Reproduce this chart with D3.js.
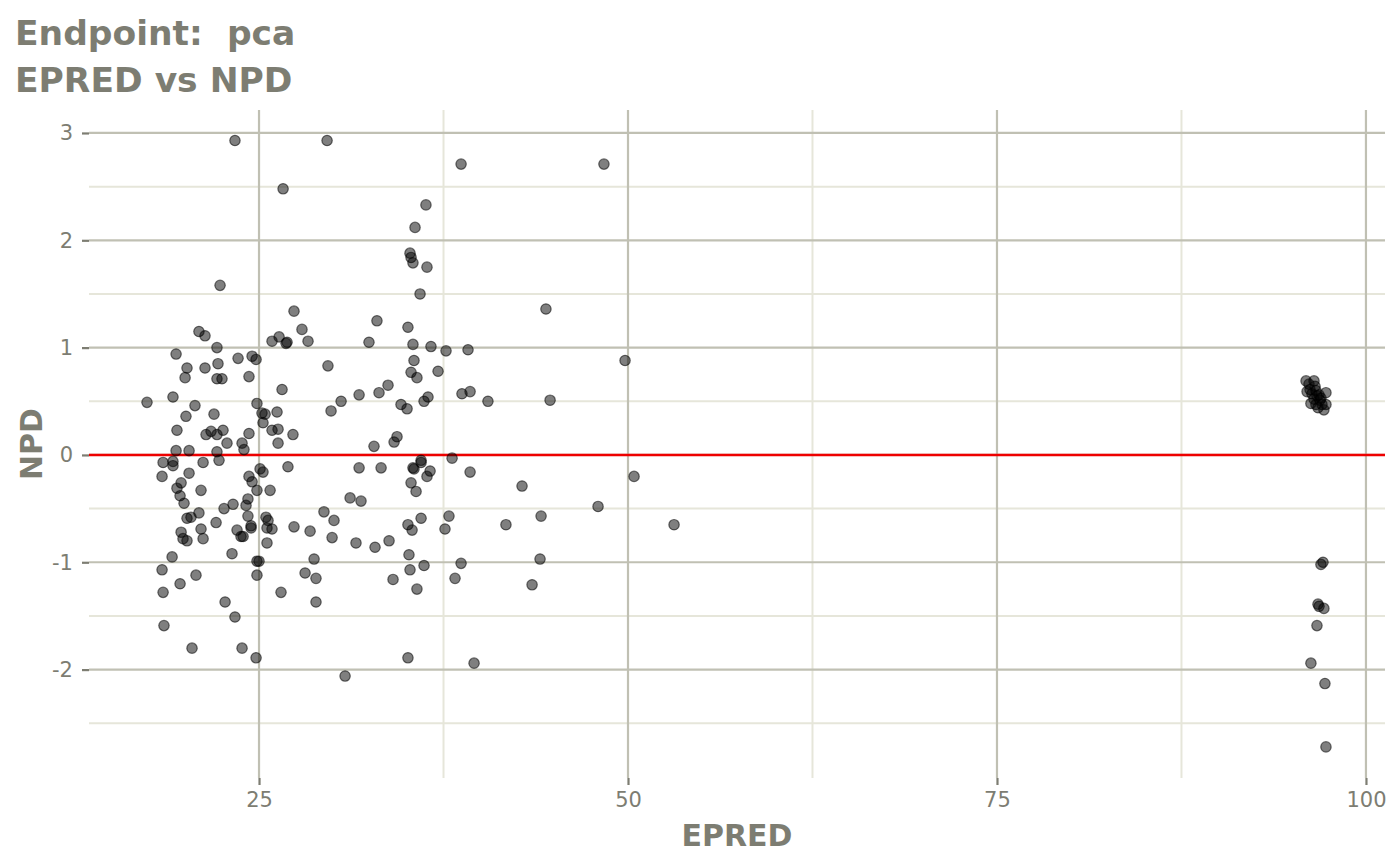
<!DOCTYPE html>
<html>
<head>
<meta charset="utf-8">
<script src="https://cdn.jsdelivr.net/npm/d3@7"></script>
<style>
  body { margin: 0; background: #fff; }
  svg { display: block; }
</style>
</head>
<body>
<svg id="chart" width="1400" height="865"></svg>
<script>
// values
const epred = [
  23.37, 26.63, 22.36, 20.93, 21.34, 22.15, 19.38, 23.58, 24.53, 24.80,
  22.22, 25.88, 26.36, 26.83, 20.12, 21.34, 19.99, 22.15, 22.49, 24.32,
  26.56, 17.41, 19.17, 20.66, 20.05, 21.95, 24.86, 25.20, 25.41, 26.22,
  25.27, 25.88, 26.29, 19.44, 21.41, 21.75, 22.15, 22.56, 24.32, 22.83,
  23.85, 26.29, 23.98, 19.38, 20.26, 22.15, 27.30, 27.37, 27.91, 26.90,
  28.32, 18.50, 19.17, 19.17, 21.21, 22.29, 18.43, 20.26, 19.72, 19.44,
  21.07, 19.65, 19.92, 24.32, 24.53, 25.07, 25.27, 24.86, 25.75, 26.96,
  24.25, 24.12, 23.24, 22.63, 20.93, 20.12, 20.39, 22.09, 21.07, 19.72,
  19.85, 20.12, 21.21, 23.51, 23.78, 23.92, 24.25, 24.46, 24.46, 25.47,
  25.61, 25.54, 25.88, 25.54, 23.17, 19.11, 24.86, 25.00, 18.43, 20.73,
  24.86, 19.65, 18.50, 26.49, 22.70, 23.37, 18.56, 20.46, 23.85, 24.80,
  29.61, 38.69, 36.31, 35.57, 35.23, 35.30, 35.43, 36.38, 35.91, 32.99,
  32.45, 35.09, 35.43, 36.65, 37.67, 39.16, 29.67, 35.50, 35.30, 35.70,
  37.13, 33.74, 33.13, 31.78, 30.56, 29.88, 34.62, 35.03, 36.18, 36.45,
  38.75, 39.30, 34.35, 34.15, 32.79, 35.98, 38.08, 31.78, 33.27, 35.43,
  35.50, 35.98, 36.59, 36.38, 35.30, 35.64, 31.17, 31.91, 29.40, 30.08,
  27.37, 28.46, 29.95, 31.57, 32.86, 33.81, 35.09, 35.37, 35.98, 37.87,
  37.60, 28.73, 28.12, 28.86, 28.86, 35.16, 35.23, 36.18, 34.08, 35.70,
  38.69, 38.28, 35.09, 30.83, 48.37, 44.44, 49.80, 40.51, 44.72, 39.30,
  42.82, 50.41, 47.97, 44.11, 41.73, 53.12, 44.04, 43.50, 39.57,
  97.09, 96.95, 96.75, 96.82, 97.15, 96.68, 96.27, 97.22, 97.29,
  95.94, 96.14, 96.48, 96.21, 96.01, 96.34, 96.61, 96.82, 96.48, 96.27,
  96.61, 96.88, 97.02, 96.75, 97.15, 97.29, 97.29, 96.55, 96.95, 96.68
];
const npd = [
  2.93, 2.48, 1.58, 1.15, 1.11, 1.00, 0.94, 0.90, 0.92, 0.89,
  0.85, 1.06, 1.10, 1.04, 0.81, 0.81, 0.72, 0.71, 0.71, 0.73,
  0.61, 0.49, 0.54, 0.46, 0.36, 0.38, 0.48, 0.39, 0.38, 0.40,
  0.30, 0.23, 0.24, 0.23, 0.19, 0.22, 0.19, 0.23, 0.20, 0.11,
  0.11, 0.11, 0.05, 0.04, 0.04, 0.03, 0.19, 1.34, 1.17, 1.05,
  1.06, -0.07, -0.06, -0.10, -0.07, -0.05, -0.20, -0.17, -0.26, -0.31,
  -0.33, -0.38, -0.45, -0.20, -0.25, -0.13, -0.16, -0.33, -0.33, -0.11,
  -0.41, -0.47, -0.46, -0.50, -0.54, -0.59, -0.58, -0.63, -0.69, -0.72,
  -0.78, -0.80, -0.78, -0.70, -0.76, -0.76, -0.57, -0.66, -0.68, -0.58,
  -0.61, -0.68, -0.69, -0.82, -0.92, -0.95, -0.99, -0.99, -1.07, -1.12,
  -1.12, -1.20, -1.28, -1.28, -1.37, -1.51, -1.59, -1.80, -1.80, -1.89,
  2.93, 2.71, 2.33, 2.12, 1.88, 1.84, 1.79, 1.75, 1.50, 1.25,
  1.05, 1.19, 1.03, 1.01, 0.97, 0.98, 0.83, 0.88, 0.77, 0.72,
  0.78, 0.65, 0.58, 0.56, 0.50, 0.41, 0.47, 0.43, 0.50, 0.54,
  0.57, 0.59, 0.17, 0.12, 0.08, -0.05, -0.03, -0.12, -0.12, -0.12,
  -0.13, -0.07, -0.15, -0.20, -0.26, -0.34, -0.40, -0.43, -0.53, -0.61,
  -0.67, -0.71, -0.77, -0.82, -0.86, -0.80, -0.65, -0.70, -0.59, -0.57,
  -0.69, -0.97, -1.10, -1.15, -1.37, -0.93, -1.07, -1.03, -1.16, -1.25,
  -1.01, -1.15, -1.89, -2.06, 2.71, 1.36, 0.88, 0.50, 0.51, -0.16,
  -0.29, -0.20, -0.48, -0.57, -0.65, -0.65, -0.97, -1.21, -1.94,
  -1.00, -1.02, -1.39, -1.41, -1.43, -1.59, -1.94, -2.13, -2.72,
  0.69, 0.66, 0.69, 0.61, 0.59, 0.57, 0.60, 0.56, 0.52, 0.48,
  0.47, 0.51, 0.47, 0.44, 0.42, 0.58, 0.47, 0.64, 0.53, 0.55
];
const xTicks = [25, 50, 75, 100];
const xMinor = [37.5, 62.5, 87.5];
const yTicks = [-2, -1, 0, 1, 2, 3];
const yMinor = [-2.5, -1.5, -0.5, 0.5, 1.5, 2.5];
const titleLines = ["Endpoint:  pca", "EPRED vs NPD"];

const data = epred.map((e, i) => ({ epred: e, npd: npd[i] }));

const margin = { top: 110, right: 15, bottom: 87, left: 89 };
const width = 1400 - margin.left - margin.right;
const height = 865 - margin.top - margin.bottom;
const textCol = "#7d7d72";
const font = "'DejaVu Sans', sans-serif";

const svgEl = d3.select("#chart");
const svg = svgEl.append("g")
  .attr("transform", `translate(${margin.left},${margin.top})`);

const x = d3.scaleLinear().domain([13.48, 101.29]).range([0, width]);
const y = d3.scaleLinear().domain([-3.01, 3.214]).range([height, 0]);

// minor grid
svg.append("g").selectAll("line").data(xMinor).enter().append("line")
  .attr("x1", d => x(d)).attr("x2", d => x(d))
  .attr("y1", 0).attr("y2", height)
  .attr("stroke", "#e6e6da").attr("stroke-width", 2);
svg.append("g").selectAll("line").data(yMinor).enter().append("line")
  .attr("x1", 0).attr("x2", width)
  .attr("y1", d => y(d)).attr("y2", d => y(d))
  .attr("stroke", "#e6e6da").attr("stroke-width", 2);

// major grid
svg.append("g").selectAll("line").data(xTicks).enter().append("line")
  .attr("x1", d => x(d)).attr("x2", d => x(d))
  .attr("y1", 0).attr("y2", height)
  .attr("stroke", "#c0c0b3").attr("stroke-width", 2.2);
svg.append("g").selectAll("line").data(yTicks).enter().append("line")
  .attr("x1", 0).attr("x2", width)
  .attr("y1", d => y(d)).attr("y2", d => y(d))
  .attr("stroke", "#c0c0b3").attr("stroke-width", 2.2);

// axes (ticks + labels only)
const xAxis = svg.append("g")
  .attr("transform", `translate(0,${height})`)
  .call(d3.axisBottom(x).tickValues(xTicks).tickSizeInner(7).tickSizeOuter(0).tickPadding(7));
const yAxis = svg.append("g")
  .call(d3.axisLeft(y).tickValues(yTicks).tickSizeInner(7).tickSizeOuter(0).tickPadding(9)
    .tickFormat(d => d < 0 ? "-" + Math.abs(d) : d));
[xAxis, yAxis].forEach(a => {
  a.select(".domain").remove();
  a.selectAll(".tick line").attr("stroke", "#7d7d72").attr("stroke-width", 2.2);
  a.selectAll(".tick text")
    .attr("fill", textCol)
    .style("font-family", font)
    .style("font-size", "21px");
});

// reference line
svg.append("line")
  .attr("x1", 0).attr("x2", width)
  .attr("y1", y(0)).attr("y2", y(0))
  .attr("stroke", "#ee0000").attr("stroke-width", 2.6);

// points
svg.append("g")
  .selectAll("circle")
  .data(data)
  .enter()
  .append("circle")
  .attr("cx", d => x(d.epred))
  .attr("cy", d => y(d.npd))
  .attr("r", 5.2)
  .attr("fill", "rgba(0,0,0,0.5)")
  .attr("stroke", "rgba(0,0,0,0.55)")
  .attr("stroke-width", 1.2);

// axis titles
svgEl.append("text")
  .attr("x", margin.left + width / 2)
  .attr("y", 846)
  .attr("text-anchor", "middle")
  .attr("fill", textCol)
  .style("font-family", font)
  .style("font-weight", "bold")
  .style("font-size", "30px")
  .text("EPRED");

svgEl.append("text")
  .attr("transform", `translate(42,${margin.top + height / 2}) rotate(-90)`)
  .attr("text-anchor", "middle")
  .attr("fill", textCol)
  .style("font-family", font)
  .style("font-weight", "bold")
  .style("font-size", "30px")
  .text("NPD");

// title
svgEl.append("g").selectAll("text").data(titleLines).enter().append("text")
  .attr("x", 15)
  .attr("y", (d, i) => 45 + i * 47)
  .attr("fill", textCol)
  .style("font-family", font)
  .style("font-weight", "bold")
  .style("font-size", "34.5px")
  .style("white-space", "pre")
  .text(d => d);
</script>
</body>
</html>
